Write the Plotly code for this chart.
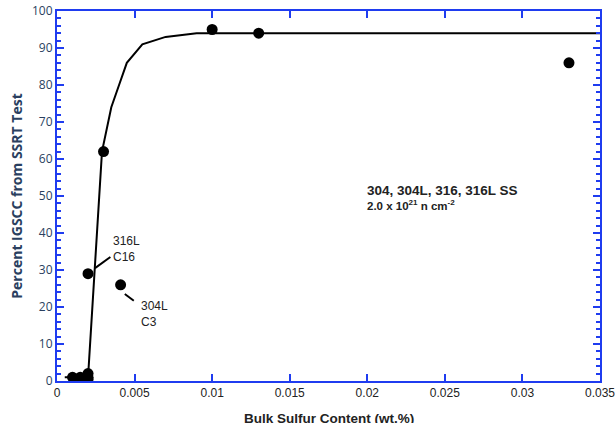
import plotly.graph_objects as go

# Data points
sulfur = [0.001, 0.0015, 0.002, 0.002, 0.002, 0.002, 0.003, 0.0041, 0.010, 0.013, 0.033]
igscc = [1, 1, 0.5, 1, 2, 29, 62, 26, 95, 94, 86]

# Trend curve
curve_x = [0.0005, 0.002, 0.0029, 0.0035, 0.004, 0.0045, 0.0055, 0.007, 0.009, 0.035]
curve_y = [1, 1, 62, 74, 80, 86, 91, 93, 94, 94]

x_ticks = [0, 0.005, 0.01, 0.015, 0.02, 0.025, 0.03, 0.035]
x_ticklabels = ["0", "0.005", "0.01", "0.015", "0.02", "0.025", "0.03", "0.035"]

BLUE = "#1f3cf0"
FONT = "Arial"

fig = go.Figure()
fig.add_trace(go.Scatter(x=curve_x, y=curve_y, mode="lines",
                         line=dict(color="black", width=2), showlegend=False))
fig.add_trace(go.Scatter(x=sulfur, y=igscc, mode="markers",
                         marker=dict(color="black", size=11), showlegend=False))

# leader lines
fig.add_shape(type="line", x0=0.00245, y0=30.5, x1=0.00344, y1=33.5,
              line=dict(color="black", width=2))
fig.add_shape(type="line", x0=0.00437, y0=23.5, x1=0.00495, y1=21.7,
              line=dict(color="black", width=2))

fig.add_annotation(x=0.0035, y=35.6, text="316L<br>C16", showarrow=False,
                   xanchor="left", yanchor="middle", align="left",
                   font=dict(family=FONT, size=12, color="#222"))
fig.add_annotation(x=0.00527, y=22.8, text="304L<br>C3", showarrow=False,
                   xanchor="left", yanchor="top", align="left",
                   font=dict(family=FONT, size=12, color="#222"))
fig.add_annotation(x=0.01983, y=51.6, text="<b>304, 304L, 316, 316L SS</b>",
                   showarrow=False, xanchor="left", yanchor="middle",
                   font=dict(family=FONT, size=13.5, color="#222"))
fig.add_annotation(x=0.01983, y=47.6, text="<b>2.0 x 10<sup>21</sup> n cm<sup>-2</sup></b>",
                   showarrow=False, xanchor="left", yanchor="middle",
                   font=dict(family=FONT, size=11.5, color="#222"))
# x axis title as a paper annotation
fig.add_annotation(x=0.5, y=-0.075, xref="paper", yref="paper",
                   text="<b>Bulk Sulfur Content (wt.%)</b>", showarrow=False,
                   xanchor="center", yanchor="top",
                   font=dict(family=FONT, size=13.5, color="#222"))

fig.update_xaxes(range=[0, 0.035], showline=True, linecolor=BLUE, linewidth=2,
                 mirror="allticks", ticks="inside", tickcolor=BLUE, ticklen=7, tickwidth=2,
                 tickvals=x_ticks, ticktext=x_ticklabels,
                 tickfont=dict(family=FONT, size=12, color="#222"),
                 automargin=False, ticklabeloverflow="allow")
fig.update_yaxes(range=[0, 100], showline=True, linecolor=BLUE, linewidth=2,
                 mirror="ticks", ticks="inside", tickcolor=BLUE, ticklen=7, tickwidth=2,
                 dtick=10, automargin=False,
                 minor=dict(dtick=2, ticks="inside", ticklen=4, tickcolor=BLUE, tickwidth=2),
                 title=dict(text="<b>Percent IGSCC from SSRT Test</b>", standoff=6))

fig.update_layout(width=615, height=423, margin=dict(l=57, r=15, t=11, b=42),
                  plot_bgcolor="white")

fig.write_html("out.html")
